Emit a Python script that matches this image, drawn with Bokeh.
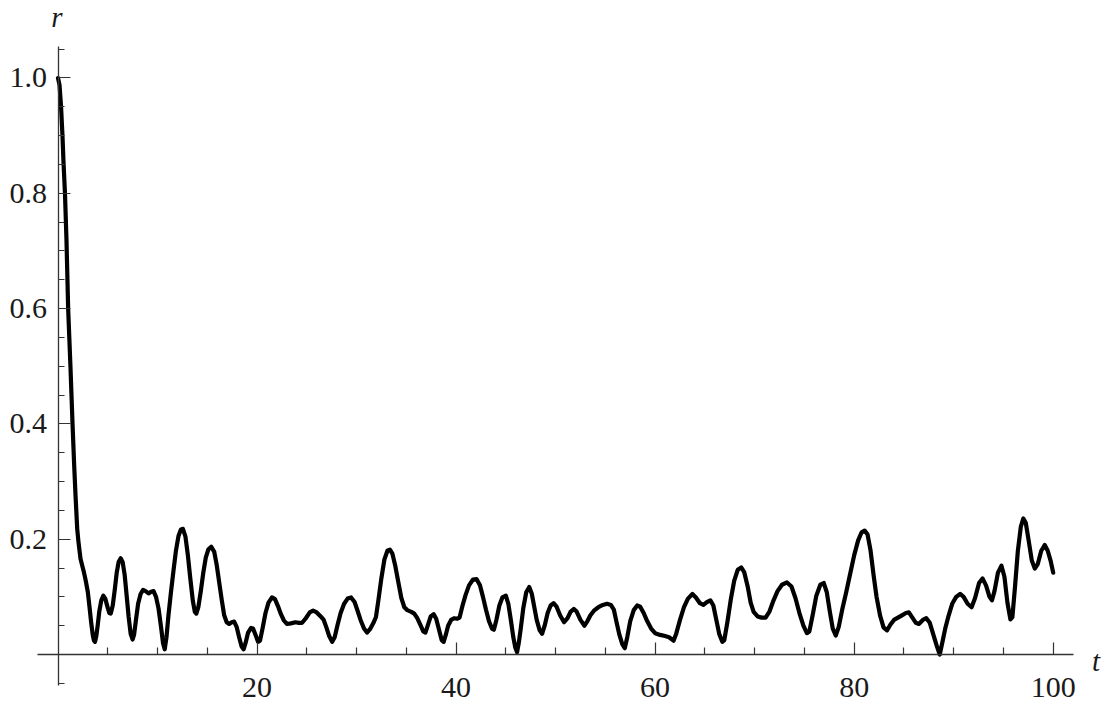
from bokeh.plotting import figure
from bokeh.models import LinearAxis, FixedTicker, Range1d, Label, NumeralTickFormatter, ColumnDataSource
from bokeh.embed import file_html
from bokeh.resources import INLINE

# ---- curve values: (t, r) ----
curve = [
    (0.0, 1.000), (0.15, 0.988), (0.3, 0.952), (0.45, 0.900), (0.55, 0.855), (0.7, 0.800), (0.85, 0.720),
    (1.02, 0.600), (1.25, 0.500), (1.46, 0.400), (1.62, 0.330), (1.76, 0.276), (1.93, 0.218), (2.06, 0.195),
    (2.26, 0.166), (2.45, 0.153), (2.6, 0.143), (2.8, 0.127), (3.0, 0.108), (3.15, 0.085), (3.33, 0.056),
    (3.5, 0.033), (3.62, 0.024), (3.72, 0.022), (3.85, 0.032), (4.0, 0.052), (4.15, 0.075), (4.35, 0.094),
    (4.55, 0.102), (4.75, 0.097), (4.95, 0.084), (5.15, 0.072), (5.3, 0.071), (5.5, 0.085), (5.7, 0.112),
    (5.9, 0.142), (6.1, 0.161), (6.3, 0.167), (6.5, 0.160), (6.7, 0.138), (6.9, 0.102), (7.1, 0.065),
    (7.3, 0.036), (7.5, 0.026), (7.65, 0.035), (7.85, 0.062), (8.05, 0.088), (8.3, 0.105), (8.55, 0.112),
    (8.8, 0.110), (9.1, 0.106), (9.35, 0.109), (9.6, 0.110), (9.85, 0.100), (10.1, 0.080), (10.35, 0.048),
    (10.55, 0.020), (10.72, 0.009), (10.9, 0.030), (11.1, 0.068), (11.35, 0.108), (11.6, 0.145), (11.85, 0.180),
    (12.1, 0.205), (12.35, 0.217), (12.55, 0.218), (12.8, 0.205), (13.05, 0.172), (13.3, 0.131), (13.55, 0.093),
    (13.75, 0.074), (13.9, 0.071), (14.1, 0.082), (14.35, 0.110), (14.6, 0.142), (14.85, 0.168), (15.1, 0.182),
    (15.4, 0.187), (15.7, 0.178), (15.95, 0.155), (16.2, 0.125), (16.45, 0.095), (16.7, 0.068), (16.95, 0.056),
    (17.2, 0.053), (17.45, 0.056), (17.7, 0.057), (17.95, 0.048), (18.2, 0.030), (18.45, 0.014), (18.65, 0.009),
    (18.85, 0.020), (19.1, 0.038), (19.4, 0.046), (19.6, 0.045), (19.85, 0.034), (20.1, 0.022), (20.3, 0.024),
    (20.55, 0.045), (20.85, 0.072), (21.15, 0.090), (21.5, 0.099), (21.8, 0.096), (22.1, 0.084), (22.4, 0.070),
    (22.7, 0.059), (23.0, 0.053), (23.4, 0.054), (23.86, 0.056), (24.2, 0.055), (24.53, 0.055), (24.9, 0.063),
    (25.3, 0.073), (25.63, 0.076), (26.0, 0.073), (26.4, 0.066), (26.7, 0.060), (26.95, 0.048), (27.25, 0.032),
    (27.55, 0.022), (27.8, 0.030), (28.1, 0.052), (28.4, 0.072), (28.75, 0.088), (29.1, 0.097), (29.45, 0.099),
    (29.8, 0.091), (30.1, 0.076), (30.4, 0.060), (30.75, 0.045), (31.05, 0.038), (31.35, 0.044), (31.7, 0.055),
    (31.95, 0.065), (32.2, 0.095), (32.5, 0.133), (32.8, 0.165), (33.1, 0.180), (33.35, 0.182), (33.6, 0.175),
    (33.9, 0.153), (34.2, 0.125), (34.5, 0.098), (34.8, 0.082), (35.1, 0.077), (35.5, 0.074), (35.8, 0.071),
    (36.1, 0.063), (36.4, 0.052), (36.7, 0.040), (36.92, 0.038), (37.15, 0.050), (37.45, 0.066), (37.75, 0.070),
    (38.0, 0.062), (38.3, 0.042), (38.55, 0.025), (38.75, 0.022), (38.95, 0.033), (39.2, 0.050), (39.5, 0.060),
    (39.8, 0.063), (40.1, 0.062), (40.35, 0.064), (40.65, 0.085), (40.95, 0.103), (41.3, 0.120), (41.7, 0.130),
    (42.05, 0.131), (42.4, 0.120), (42.7, 0.100), (43.0, 0.078), (43.3, 0.058), (43.6, 0.045), (43.8, 0.043),
    (44.05, 0.060), (44.35, 0.085), (44.65, 0.099), (45.0, 0.102), (45.25, 0.088), (45.5, 0.060), (45.75, 0.030),
    (45.95, 0.012), (46.13, 0.004), (46.3, 0.020), (46.5, 0.045), (46.75, 0.080), (47.05, 0.108), (47.35, 0.117),
    (47.6, 0.106), (47.85, 0.083), (48.1, 0.060), (48.4, 0.042), (48.64, 0.036), (48.9, 0.050), (49.2, 0.072),
    (49.5, 0.085), (49.8, 0.089), (50.1, 0.083), (50.45, 0.068), (50.85, 0.056), (51.2, 0.063), (51.5, 0.074),
    (51.82, 0.079), (52.1, 0.075), (52.5, 0.060), (52.9, 0.050), (53.2, 0.058), (53.5, 0.068), (53.85, 0.076),
    (54.3, 0.082), (54.75, 0.086), (55.17, 0.088), (55.55, 0.086), (55.85, 0.078), (56.1, 0.058), (56.4, 0.035),
    (56.7, 0.018), (56.95, 0.011), (57.2, 0.030), (57.5, 0.058), (57.85, 0.077), (58.2, 0.085), (58.5, 0.083),
    (58.85, 0.072), (59.2, 0.058), (59.6, 0.045), (60.0, 0.037), (60.5, 0.034), (61.0, 0.032), (61.4, 0.030),
    (61.85, 0.024), (62.1, 0.035), (62.5, 0.060), (62.9, 0.082), (63.3, 0.097), (63.75, 0.105), (64.1, 0.099),
    (64.5, 0.089), (64.85, 0.086), (65.2, 0.091), (65.55, 0.094), (65.85, 0.085), (66.15, 0.060), (66.45, 0.035),
    (66.75, 0.022), (66.95, 0.025), (67.25, 0.055), (67.6, 0.095), (67.95, 0.128), (68.3, 0.147), (68.65, 0.151),
    (68.95, 0.143), (69.3, 0.118), (69.6, 0.090), (69.9, 0.074), (70.3, 0.066), (70.7, 0.064), (71.1, 0.064),
    (71.5, 0.075), (71.9, 0.094), (72.3, 0.110), (72.75, 0.121), (73.25, 0.125), (73.7, 0.118), (74.1, 0.098),
    (74.5, 0.072), (74.9, 0.050), (75.25, 0.037), (75.5, 0.040), (75.85, 0.070), (76.2, 0.102), (76.6, 0.121),
    (76.95, 0.124), (77.25, 0.108), (77.55, 0.075), (77.85, 0.045), (78.15, 0.033), (78.45, 0.048), (78.8, 0.078),
    (79.2, 0.108), (79.6, 0.140), (80.0, 0.172), (80.4, 0.198), (80.75, 0.212), (81.05, 0.215), (81.35, 0.208),
    (81.65, 0.180), (81.95, 0.138), (82.25, 0.100), (82.6, 0.068), (82.95, 0.047), (83.3, 0.042), (83.65, 0.052),
    (84.0, 0.060), (84.4, 0.064), (84.8, 0.068), (85.2, 0.072), (85.5, 0.073), (85.85, 0.064), (86.2, 0.055),
    (86.5, 0.053), (86.9, 0.060), (87.25, 0.063), (87.6, 0.055), (87.95, 0.035), (88.3, 0.015), (88.6, 0.000),
    (88.85, 0.020), (89.15, 0.045), (89.5, 0.068), (89.85, 0.088), (90.25, 0.100), (90.65, 0.105), (91.0, 0.100),
    (91.4, 0.088), (91.8, 0.082), (92.15, 0.098), (92.55, 0.124), (92.9, 0.132), (93.25, 0.120), (93.6, 0.100),
    (93.85, 0.094), (94.1, 0.110), (94.45, 0.142), (94.8, 0.154), (95.1, 0.135), (95.4, 0.090), (95.7, 0.061),
    (95.9, 0.065), (96.15, 0.115), (96.45, 0.180), (96.75, 0.222), (97.0, 0.236), (97.25, 0.228), (97.55, 0.196),
    (97.85, 0.163), (98.15, 0.149), (98.45, 0.157), (98.8, 0.180), (99.15, 0.190), (99.45, 0.180), (99.75, 0.162),
    (100.0, 0.142),
]
t_vals = [c[0] for c in curve]
r_vals = [c[1] for c in curve]

x_major = [20, 40, 60, 80, 100]
x_minor = [5, 10, 15, 25, 30, 35, 45, 50, 55, 65, 70, 75, 85, 90, 95]
y_major = [0.2, 0.4, 0.6, 0.8, 1.0]
y_minor = [-0.05, 0.05, 0.1, 0.15, 0.25, 0.3, 0.35, 0.45, 0.5, 0.55, 0.65, 0.7, 0.75, 0.85, 0.9, 0.95, 1.05]

# extent of the drawn axes (plot range)
x_axis_bounds = (-2.1, 102.0)
y_axis_bounds = (-0.054, 1.055)

FONT = "'Liberation Serif', serif"
AXIS_COLOR = "#333333"
TEXT_COLOR = "#1a1a1a"

# the frame fills the whole canvas; the ranges carry the margins
p = figure(width=1114, height=704, output_backend="svg", toolbar_location=None,
           x_axis_location=None, y_axis_location=None,
           x_range=Range1d(-5.778, 106.16), y_range=Range1d(-0.0867, 1.1344),
           min_border=0)
p.grid.visible = False
p.outline_line_color = None
p.background_fill_color = "white"
p.border_fill_color = "white"

src = ColumnDataSource(dict(t=t_vals, r=r_vals))
p.line("t", "r", source=src, line_color="black", line_width=4.2, line_join="round", line_cap="round")

xaxis = LinearAxis(fixed_location=0, bounds=x_axis_bounds,
                   ticker=FixedTicker(ticks=x_major, minor_ticks=x_minor))
yaxis = LinearAxis(fixed_location=0, bounds=y_axis_bounds,
                   ticker=FixedTicker(ticks=y_major, minor_ticks=y_minor),
                   formatter=NumeralTickFormatter(format="0.0"))
for ax in (xaxis, yaxis):
    ax.axis_line_color = AXIS_COLOR
    ax.axis_line_width = 1.3
    ax.major_tick_line_color = AXIS_COLOR
    ax.minor_tick_line_color = AXIS_COLOR
    ax.major_tick_line_width = 1.2
    ax.minor_tick_line_width = 1.2
    ax.major_tick_in = 12
    ax.major_tick_out = 0
    ax.minor_tick_out = 0
    ax.major_label_text_font = FONT
    ax.major_label_text_font_size = "30px"
    ax.major_label_text_color = TEXT_COLOR
xaxis.minor_tick_in = 7
yaxis.minor_tick_in = 6
xaxis.major_label_standoff = 23
yaxis.major_label_standoff = 11

p.add_layout(xaxis, "below")
p.add_layout(yaxis, "left")

p.add_layout(Label(x=0, y=1.1344, text="r", text_font=FONT, text_font_style="italic",
                   text_font_size="29px", text_align="center", text_baseline="top",
                   x_offset=-1, y_offset=0, text_color=TEXT_COLOR))
p.add_layout(Label(x=x_axis_bounds[1], y=0, text="t", text_font=FONT, text_font_style="italic",
                   text_font_size="29px", text_align="left", text_baseline="alphabetic",
                   x_offset=19, y_offset=-6, text_color=TEXT_COLOR))

open("out.html", "w").write(file_html(p, INLINE))
